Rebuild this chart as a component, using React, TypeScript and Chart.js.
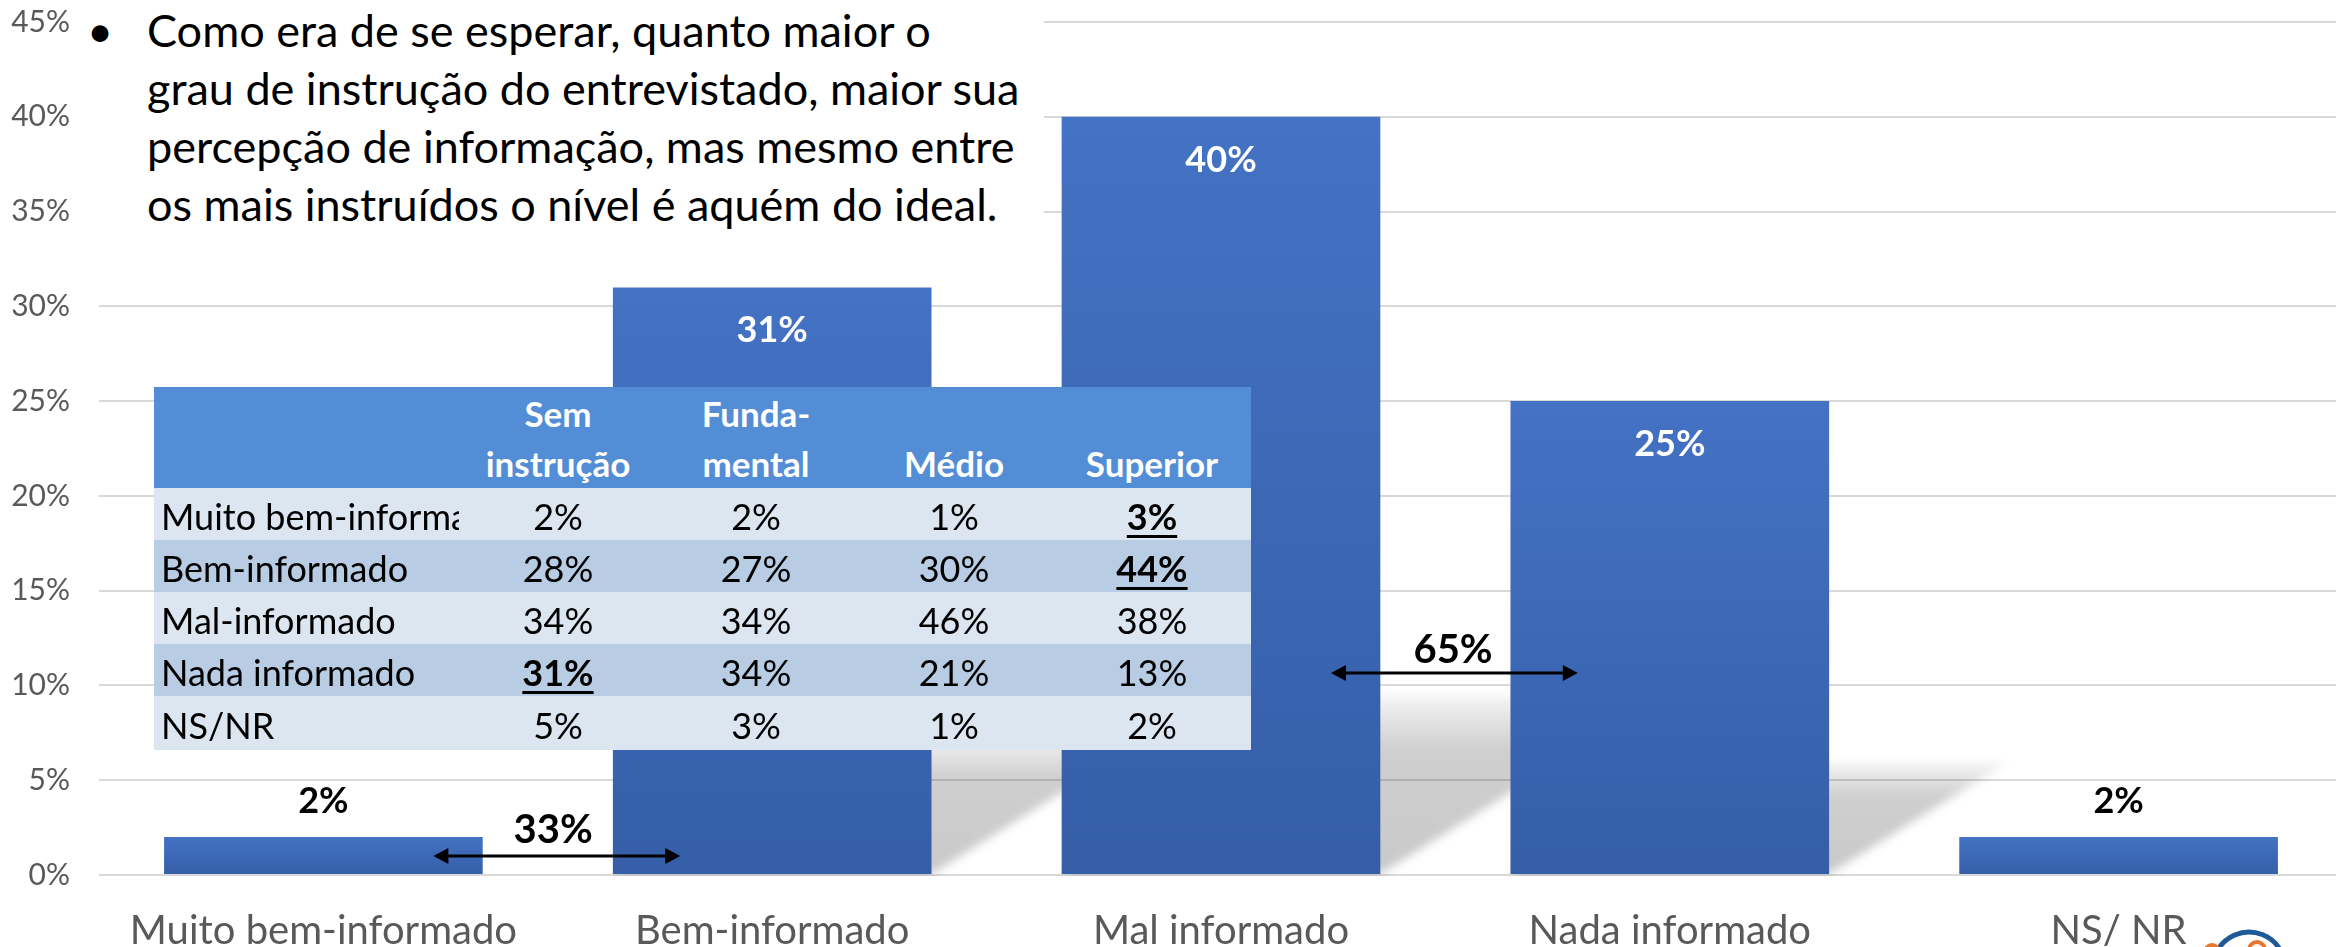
import React, { useEffect, useRef } from 'react';
import { Chart, registerables } from 'chart.js';

Chart.register(...registerables);

// ---- chart data ----
const categories = ['Muito bem-informado', 'Bem-informado', 'Mal informado', 'Nada informado', 'NS/ NR'];
const percentages = [2, 31, 40, 25, 2];
const yMax = 45;
const yStep = 5;

// ---- note text ----
const noteLines = [
  'Como era de se esperar, quanto maior o',
  'grau de instrução do entrevistado, maior sua',
  'percepção de informação, mas mesmo entre',
  'os mais instruídos o nível é aquém do ideal.',
];

// ---- inset table ----
const tableHeaderTop = ['Sem', 'Funda-', '', ''];
const tableHeaderBottom = ['instrução', 'mental', 'Médio', 'Superior'];
const tableRowLabels = ['Muito bem-informado', 'Bem-informado', 'Mal-informado', 'Nada informado', 'NS/NR'];
const semInstrucao = ['2%', '28%', '34%', '31%', '5%'];
const fundamental = ['2%', '27%', '34%', '34%', '3%'];
const medio = ['1%', '30%', '46%', '21%', '1%'];
const superior = ['3%', '44%', '38%', '13%', '2%'];
const emphasized = ['3-0', '0-3', '1-3']; // row-col

// ---- bracket annotations ----
const bracketTexts = ['33%', '65%'];
const bracketStart = [0.245, 2.245];
const bracketEnd = [0.795, 2.795];
const bracketLevel = [1.0, 10.65];
const bracketTextX = [0.512, 2.517];
const bracketTextLevel = [1.7, 11.2];

const FONT = 'Lato';

const shadowPlugin = {
  id: 'perspectiveShadow',
  beforeDatasetsDraw(chart: any) {
    const ctx = chart.ctx;
    const area = chart.chartArea;
    const meta = chart.getDatasetMeta(0);
    ctx.save();
    ctx.beginPath();
    ctx.rect(area.left, area.top, area.right - area.left, area.bottom - area.top + 1);
    ctx.clip();
    ctx.filter = 'blur(5px)';
    meta.data.forEach((el: any) => {
      const { x, y, base, width } = el.getProps(['x', 'y', 'base', 'width'], true);
      const h = (base - y) * 0.236;
      if (h < 15) return;
      const s = h * 1.6;
      const l = x - width / 2;
      const r = x + width / 2;
      const g = ctx.createLinearGradient(0, base - h, 0, base);
      g.addColorStop(0, 'rgba(0,0,0,0.04)');
      g.addColorStop(0.3, 'rgba(0,0,0,0.19)');
      g.addColorStop(1, 'rgba(0,0,0,0.21)');
      ctx.fillStyle = g;
      ctx.beginPath();
      ctx.moveTo(l, base);
      ctx.lineTo(r, base);
      ctx.lineTo(r + s, base - h);
      ctx.lineTo(l + s, base - h);
      ctx.closePath();
      ctx.fill();
    });
    ctx.restore();
  },
};

const valueLabelPlugin = {
  id: 'valueLabels',
  afterDatasetsDraw(chart: any) {
    const ctx = chart.ctx;
    const meta = chart.getDatasetMeta(0);
    ctx.save();
    ctx.font = `bold 36px ${FONT}`;
    ctx.textAlign = 'center';
    ctx.textBaseline = 'alphabetic';
    meta.data.forEach((el: any, i: number) => {
      const v = percentages[i];
      const { x, y } = el.getProps(['x', 'y'], true);
      const txt = `${v}%`;
      if (v >= 10) {
        ctx.fillStyle = '#ffffff';
        ctx.fillText(txt, x, y + 55);
      } else {
        ctx.fillStyle = '#000000';
        ctx.fillText(txt, x, y - 24);
      }
    });
    ctx.restore();
  },
};

const annotationPlugin = {
  id: 'brackets',
  afterDraw(chart: any) {
    const ctx = chart.ctx;
    const xs = chart.scales.x;
    const ys = chart.scales.y;
    ctx.save();
    bracketTexts.forEach((t, i) => {
      const x1 = xs.getPixelForValue(bracketStart[i]);
      const x2 = xs.getPixelForValue(bracketEnd[i]);
      const y = ys.getPixelForValue(bracketLevel[i]);
      const head = 15;
      const half = 8;
      ctx.strokeStyle = '#000';
      ctx.fillStyle = '#000';
      ctx.lineWidth = 3;
      ctx.beginPath();
      ctx.moveTo(x1 + head - 2, y);
      ctx.lineTo(x2 - head + 2, y);
      ctx.stroke();
      ctx.beginPath();
      ctx.moveTo(x1, y);
      ctx.lineTo(x1 + head, y - half);
      ctx.lineTo(x1 + head, y + half);
      ctx.closePath();
      ctx.fill();
      ctx.beginPath();
      ctx.moveTo(x2, y);
      ctx.lineTo(x2 - head, y - half);
      ctx.lineTo(x2 - head, y + half);
      ctx.closePath();
      ctx.fill();
      ctx.font = `bold 40px ${FONT}`;
      ctx.textAlign = 'center';
      ctx.textBaseline = 'alphabetic';
      ctx.fillText(t, xs.getPixelForValue(bracketTextX[i]), ys.getPixelForValue(bracketTextLevel[i]));
    });
    // partial logo at the bottom-right corner
    ctx.lineWidth = 5;
    ctx.strokeStyle = '#1d5a96';
    ctx.beginPath();
    ctx.arc(2249, 968, 36, Math.PI * 1.12, Math.PI * 1.9);
    ctx.stroke();
    ctx.lineWidth = 3;
    ctx.beginPath();
    ctx.arc(2249, 975, 24, Math.PI * 1.15, Math.PI * 1.85);
    ctx.stroke();
    ctx.strokeStyle = '#e8772e';
    ctx.lineWidth = 4;
    ctx.beginPath();
    ctx.arc(2212, 952, 7, Math.PI, Math.PI * 2);
    ctx.stroke();
    ctx.beginPath();
    ctx.arc(2257, 950, 8, Math.PI, Math.PI * 2);
    ctx.stroke();
    ctx.restore();
  },
};

export default function App() {
  const ref = useRef<HTMLCanvasElement>(null);

  useEffect(() => {
    const canvas = ref.current!;
    const chart = new Chart(canvas, {
      type: 'bar',
      data: {
        labels: categories,
        datasets: [
          {
            data: percentages,
            barPercentage: 0.71,
            categoryPercentage: 1,
            backgroundColor: (c: any) => {
              const ch = c.chart;
              if (!ch.chartArea || c.type !== 'data') return '#4472C4';
              const ys = ch.scales.y;
              const top = ys.getPixelForValue(c.raw);
              const bot = ys.getPixelForValue(0);
              const g = ch.ctx.createLinearGradient(0, top, 0, bot);
              g.addColorStop(0, '#4472C4');
              g.addColorStop(1, '#355EA7');
              return g;
            },
          },
        ],
      },
      options: {
        responsive: false,
        animation: false,
        layout: { padding: { top: 22, left: 0, right: 0, bottom: 0 } },
        plugins: {
          legend: { display: false },
          tooltip: { enabled: false },
        },
        scales: {
          x: {
            offset: true,
            grid: { display: false },
            border: { display: false },
            ticks: {
              color: '#595959',
              font: { family: FONT, size: 40 },
              padding: 24,
              maxRotation: 0,
              autoSkip: false,
            },
            afterFit: (s: any) => {
              s.height = 72;
            },
          },
          y: {
            min: 0,
            max: yMax,
            grid: { color: '#d9d9d9', lineWidth: 2, drawTicks: false },
            border: { display: false },
            ticks: {
              stepSize: yStep,
              color: '#595959',
              font: { family: FONT, size: 30 },
              padding: 29,
              callback: (v: any) => `${v}%`,
            },
            afterFit: (s: any) => {
              s.width = 99;
              s.paddingTop = 0;
              s.paddingBottom = 0;
            },
          },
        },
      },
      plugins: [shadowPlugin, valueLabelPlugin, annotationPlugin],
    });
    return () => chart.destroy();
  }, []);

  const cols = [semInstrucao, fundamental, medio, superior];

  return (
    <div
      style={{
        position: 'fixed',
        left: 0,
        top: 0,
        width: 2336,
        height: 947,
        overflow: 'hidden',
        background: '#ffffff',
      }}
    >
      <canvas
        ref={ref}
        width={2343}
        height={947}
        style={{ position: 'absolute', left: 0, top: 0, width: 2343, height: 947 }}
      />
      <div
        style={{
          position: 'absolute',
          left: 75,
          top: 0,
          width: 969,
          height: 255,
          background: '#ffffff',
          fontFamily: FONT,
          fontSize: 45,
          lineHeight: '58px',
          color: '#000',
        }}
      >
        <div style={{ position: 'absolute', left: 12, top: 1 }}>•</div>
        <div style={{ position: 'absolute', left: 72, top: 1, whiteSpace: 'nowrap' }}>
          {noteLines.map((l, i) => (
            <div key={i}>{l}</div>
          ))}
        </div>
      </div>
      <table
        style={{
          position: 'absolute',
          left: 154,
          top: 387,
          width: 1097,
          borderCollapse: 'collapse',
          borderSpacing: 0,
          tableLayout: 'fixed',
          fontFamily: FONT,
          fontSize: 36,
          color: '#000',
        }}
      >
        <colgroup>
          <col style={{ width: 305 }} />
          <col style={{ width: 198 }} />
          <col style={{ width: 198 }} />
          <col style={{ width: 198 }} />
          <col style={{ width: 198 }} />
        </colgroup>
        <thead>
          <tr style={{ height: 98, background: '#538DD5' }}>
            <th style={{ padding: 0 }} />
            {tableHeaderBottom.map((b, j) => (
              <th
                key={j}
                style={{
                  padding: 0,
                  paddingTop: 1,
                  verticalAlign: 'top',
                  lineHeight: '50px',
                  color: '#ffffff',
                  fontWeight: 700,
                  fontSize: 35,
                  textAlign: 'center',
                  whiteSpace: 'nowrap',
                }}
              >
                <div>{tableHeaderTop[j] || '\u00a0'}</div>
                <div>{b}</div>
              </th>
            ))}
          </tr>
        </thead>
        <tbody>
          {tableRowLabels.map((label, r) => (
            <tr key={r} style={{ height: r === 4 ? 54 : 52, background: r % 2 === 0 ? '#DCE6F1' : '#B8CCE4' }}>
              <td
                style={{
                  padding: 0,
                  paddingLeft: 7,
                  paddingTop: 4,
                  textAlign: 'left',
                  whiteSpace: 'nowrap',
                  overflow: 'hidden',
                  lineHeight: '42px',
                }}
              >
                {label}
              </td>
              {cols.map((col, c) => {
                const em = emphasized.includes(`${r}-${c}`);
                return (
                  <td
                    key={c}
                    style={{
                      padding: 0,
                      paddingTop: 4,
                      textAlign: 'center',
                      whiteSpace: 'nowrap',
                      lineHeight: '42px',
                      fontWeight: em ? 700 : 400,
                      textDecoration: em ? 'underline' : 'none',
                      textDecorationThickness: em ? '3px' : undefined,
                      textUnderlineOffset: em ? '5px' : undefined,
                    }}
                  >
                    {col[r]}
                  </td>
                );
              })}
            </tr>
          ))}
        </tbody>
      </table>
    </div>
  );
}
